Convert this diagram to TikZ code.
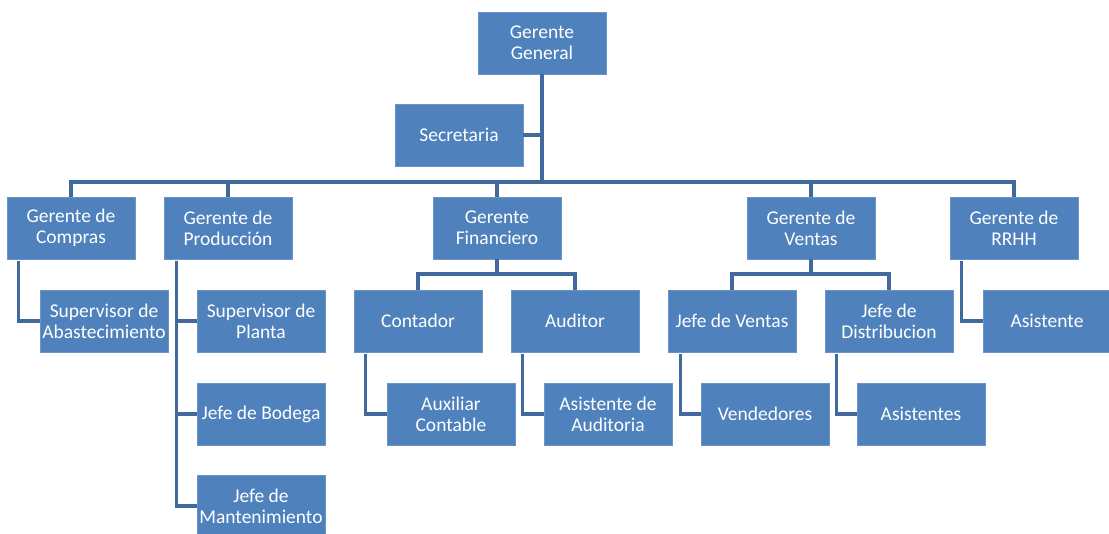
\documentclass[tikz,border=0pt]{standalone}
\usepackage{fontspec}
\setmainfont{Carlito}
\usetikzlibrary{calc}
\definecolor{boxblue}{RGB}{79,129,189}
\definecolor{linkblue}{RGB}{65,105,155}
\begin{document}
\begin{tikzpicture}[x=1pt,y=-1pt,
  unit/.style={rectangle,fill=boxblue,draw=boxblue!85!white,line width=0.6pt,
    minimum width=128pt,minimum height=62pt,inner sep=1pt,
    text=white,align=center,font=\fontsize{19.5}{21}\selectfont},
  link/.style={draw=linkblue,line width=3.5pt}]
\useasboundingbox (0,0) rectangle (1109,534);

% top level
\node[unit] (gg) at (542,43) {Gerente\\General};
\node[unit] (sec) at (459,135) {Secretaria};

% managers
\node[unit] (comp) at (71,228) {Gerente de\\Compras};
\node[unit] (prod) at (228,228) {Gerente de\\Producción};
\node[unit] (fin) at (497,228) {Gerente\\Financiero};
\node[unit] (ven) at (811,228) {Gerente de\\Ventas};
\node[unit] (rrhh) at (1014,228) {Gerente de\\RRHH};

% third level
\node[unit] (abas) at (104,321) {Supervisor de\\Abastecimiento};
\node[unit] (planta) at (261,321) {Supervisor de\\Planta};
\node[unit] (bodega) at (261,414) {Jefe de Bodega};
\node[unit] (mant) at (261,506) {Jefe de\\Mantenimiento};
\node[unit] (cont) at (418,321) {Contador};
\node[unit] (aud) at (575,321) {Auditor};
\node[unit] (aux) at (451,414) {Auxiliar\\Contable};
\node[unit] (asaud) at (608,414) {Asistente de\\Auditoria};
\node[unit] (jven) at (732,321) {Jefe de Ventas};
\node[unit] (jdis) at (889,321) {Jefe de\\Distribucion};
\node[unit] (vend) at (765,414) {Vendedores};
\node[unit] (asis) at (921,414) {Asistentes};
\node[unit] (asist) at (1047,321) {Asistente};

% bus lines
\coordinate (bus) at (542,182);
\coordinate (finbus) at (497,274);
\coordinate (venbus) at (811,274);

\draw[link] (gg.south) -- (bus);
\draw[link] (sec.east) -- (sec.east -| gg.south);
\draw[link] (comp.north) |- (bus) -| (rrhh.north);
\draw[link] (prod.north) -- (prod.north |- bus);
\draw[link] (fin.north) -- (fin.north |- bus);
\draw[link] (ven.north) -- (ven.north |- bus);

% finance branch
\draw[link] (fin.south) -- (finbus);
\draw[link] (cont.north) |- (finbus) -| (aud.north);
% sales branch
\draw[link] (ven.south) -- (venbus);
\draw[link] (jven.north) |- (venbus) -| (jdis.north);

% side branches
\draw[link] ($(comp.south west)+(12,2)$) |- (abas.west);
\coordinate (pl) at ($(prod.south west)+(13,2)$);
\draw[link] (pl) |- (mant.west);
\draw[link] (planta.west) -- (planta.west -| pl);
\draw[link] (bodega.west) -- (bodega.west -| pl);
\draw[link] ($(cont.south west)+(12,2)$) |- (aux.west);
\draw[link] ($(aud.south west)+(12,2)$) |- (asaud.west);
\draw[link] ($(jven.south west)+(13,2)$) |- (vend.west);
\draw[link] ($(jdis.south west)+(12,2)$) |- (asis.west);
\draw[link] ($(rrhh.south west)+(12,2)$) |- (asist.west);
\end{tikzpicture}
\end{document}
